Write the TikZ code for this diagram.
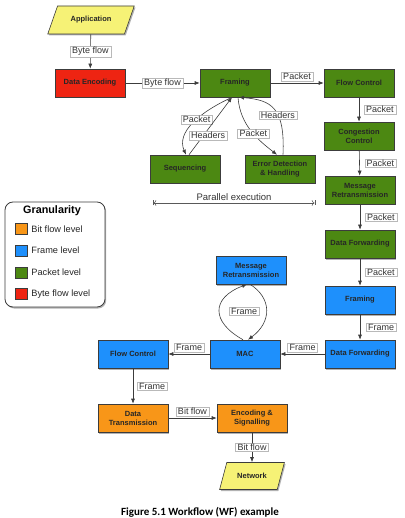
\documentclass[tikz,border=0pt]{standalone}
\usepackage{fontspec}
\setmainfont{Liberation Sans}
\newfontfamily\capfont{Carlito}
\usetikzlibrary{arrows.meta,shapes.geometric,shadows,positioning}

\definecolor{bytered}{RGB}{238,36,18}
\definecolor{pktgreen}{RGB}{76,136,18}
\definecolor{frameblue}{RGB}{30,144,252}
\definecolor{bitorange}{RGB}{248,150,24}
\definecolor{ioyellow}{RGB}{246,242,118}
\definecolor{edgegray}{RGB}{60,60,60}

\tikzset{
  boxshadow/.style={drop shadow={shadow xshift=1.2pt,shadow yshift=-1.5pt,opacity=0.3,fill=black}},
  stage/.style={draw=edgegray, line width=0.6pt, minimum width=70pt, minimum height=28pt,
    inner sep=1pt, align=center, text=black!85,
    font=\fontsize{7.5}{9}\selectfont\bfseries, boxshadow},
  io/.style={trapezium, trapezium left angle=63, trapezium right angle=117,
    trapezium stretches=true, minimum width=87pt, minimum height=28pt,
    fill=ioyellow, draw=edgegray, line width=0.6pt, text=black!85,
    font=\fontsize{7.5}{9}\selectfont\bfseries, boxshadow},
  flowlbl/.style={fill=white, draw=gray!55, line width=0.3pt, inner ysep=1pt, inner xsep=2pt,
    text=black!80, font=\fontsize{9}{10}\selectfont},
  link/.style={draw=edgegray, line width=0.6pt, -{Latex[length=5pt,width=4pt]}},
  swatch/.style={draw=edgegray, line width=0.5pt, minimum width=12pt, minimum height=11pt, inner sep=0pt},
}

\begin{document}
\begin{tikzpicture}[x=1pt,y=-1pt]
  \useasboundingbox (0,0) rectangle (404,518);

  % byte and packet level, top row
  \node[io] (app) at (91,20) {Application};
  \node[stage,fill=bytered] (enc) at (90,83) {Data Encoding};
  \node[stage,fill=pktgreen] (fram) at (235,83) {Framing};
  \node[stage,fill=pktgreen] (fc) at (359,83) {Flow Control};

  % parallel stages under framing
  \node[stage,fill=pktgreen] (seq) at (185,169) {Sequencing};
  \node[stage,fill=pktgreen] (err) at (280,169) {Error Detection\\\& Handling};

  % right column
  \node[stage,fill=pktgreen] (cong) at (359,136) {Congestion\\Control};
  \node[stage,fill=pktgreen] (retx) at (360,190) {Message\\Retransmission};
  \node[stage,fill=pktgreen] (fwd) at (360,244) {Data Forwarding};
  \node[stage,fill=frameblue] (bfram) at (360,300) {Framing};
  \node[stage,fill=frameblue] (bfwd) at (360,354) {Data Forwarding};

  % frame level
  \node[stage,fill=frameblue] (mac) at (245,354) {MAC};
  \node[stage,fill=frameblue] (bretx) at (251,270) {Message\\Retransmission};
  \node[stage,fill=frameblue] (bfc) at (133,354) {Flow Control};

  % bit level
  \node[stage,fill=bitorange] (tx) at (133,418) {Data\\Transmission};
  \node[stage,fill=bitorange] (sig) at (252,418) {Encoding \&\\Signalling};
  \node[io,minimum width=65pt,minimum height=27pt,trapezium left angle=67,trapezium right angle=113] (net) at (252,476) {Network};

  % main flow
  \draw[link] (app) -- node[flowlbl] {Byte flow} (enc);
  \draw[link] (enc) -- node[flowlbl] {Byte flow} (fram);
  \draw[link] (fram) -- node[flowlbl,above=2pt] {Packet} (fc);
  \draw[link] (fc) -- node[flowlbl,right=5pt] {Packet} (cong);
  \draw[link] (cong) -- node[flowlbl,right=5pt] {Packet} (retx);
  \draw[link] (retx) -- node[flowlbl,right=5pt] {Packet} (fwd);
  \draw[link] (fwd) -- node[flowlbl,right=5pt] {Packet} (bfram);
  \draw[link] (bfram) -- node[flowlbl,right=6pt] {Frame} (bfwd);
  \draw[link] (bfwd) -- node[flowlbl,above=2pt] {Frame} (mac);
  \draw[link] (mac) -- node[flowlbl,above=2pt] {Frame} (bfc);
  \draw[link] (bfc) -- node[flowlbl,right=4pt] {Frame} (tx);
  \draw[link] (tx) -- node[flowlbl,above=2pt] {Bit flow} (sig);
  \draw[link] (sig) -- node[flowlbl] {Bit flow} (net);

  % framing <-> sequencing / error detection
  \draw[link] ([xshift=-3pt]fram.south) .. controls (200,112) and (176,132) .. ([xshift=1pt]seq.north)
    node[flowlbl,pos=0.44] {Packet};
  \draw[link] ([xshift=4pt]seq.north) -- ([xshift=-3pt]fram.south)
    node[flowlbl,pos=0.33,xshift=5pt] {Headers};
  \draw[link] ([xshift=3pt]fram.south) .. controls (240,125) and (258,140) .. ([xshift=-3pt]err.north)
    node[flowlbl,pos=0.55] {Packet};
  \draw[link] ([xshift=3pt]err.north) .. controls (285,108) and (272,100) .. ([xshift=4pt]fram.south)
    node[flowlbl,pos=0.4] {Headers};

  % parallel execution span
  \coordinate (parl) at (153,203);
  \coordinate (parr) at (315,203);
  \draw[gray!70!black, line width=0.5pt, |<->|]
    (parl) -- node[above=-1pt,text=black!80,font=\fontsize{9.5}{10}\selectfont] {Parallel execution} (parr);

  % MAC <-> retransmission loop
  \draw[link] ([xshift=-2pt]mac.north) .. controls (211,322) and (211,298) .. ([xshift=-4pt]bretx.south);
  \draw[link] ([xshift=-1pt]bretx.south) .. controls (272,298) and (272,322) .. ([xshift=3pt]mac.north);
  \node[flowlbl] (loopframe) at (244,311) {Frame};

  % legend
  \draw[edgegray, line width=0.8pt, rounded corners=8pt, fill=white, boxshadow] (5,202) rectangle (105,307);
  \node[font=\fontsize{10.8}{12}\selectfont\bfseries] (legtitle) at (52,211) {Granularity};
  \foreach \c/\t [count=\i] in {bitorange/Bit flow level, frameblue/Frame level,
                                 pktgreen/Packet level, bytered/Byte flow level} {
    \node[swatch,fill=\c] (sw\i) at (21,{229+21.7*(\i-1)}) {};
    \node[right=4pt of sw\i, inner sep=0pt, text=black!85, font=\fontsize{9.2}{10}\selectfont] (lt\i) {\t};
  }

  % caption
  \node[font=\capfont\fontsize{11}{12}\selectfont\bfseries] (cap) at (200,512) {Figure 5.1 Workflow (WF) example};
\end{tikzpicture}
\end{document}
